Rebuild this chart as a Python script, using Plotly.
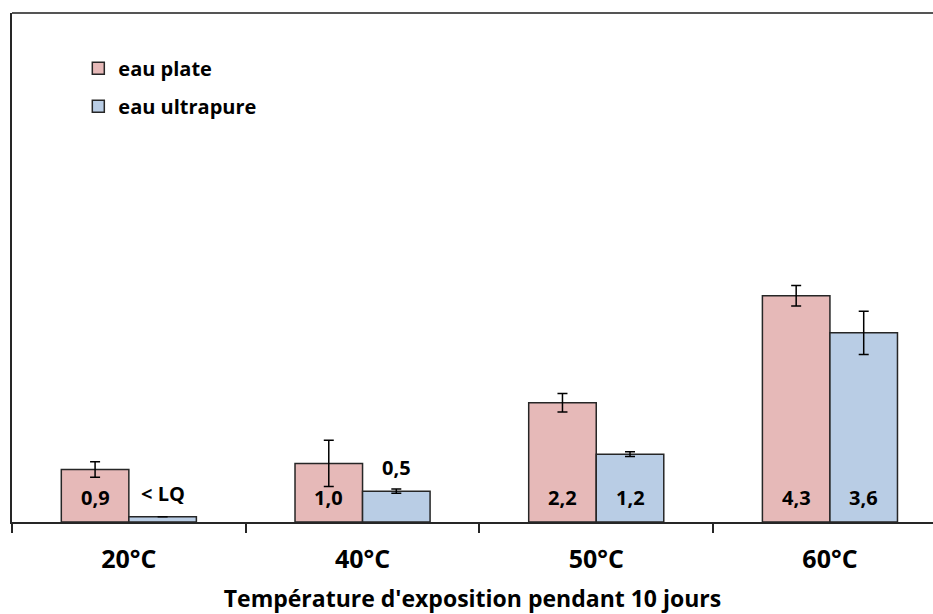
import plotly.graph_objects as go

# data
categories = ["20°C", "40°C", "50°C", "60°C"]
plate = [0.92, 1.04, 2.22, 4.30]
plate_err = [0.15, 0.45, 0.18, 0.20]
plate_text = ["0,9", "1,0", "2,2", "4,3"]
ultra = [0.0, 0.50, 1.22, 3.58]
ultra_err = [None, 0.04, 0.045, 0.42]
ultra_text = ["< LQ", "0,5", "1,2", "3,6"]

BASE = -0.1  # the horizontal axis crosses at -0.1, bars start there
FONT = "Open Sans"
EDGE = "#262626"

fig = go.Figure()
fig.add_trace(go.Bar(
    name="eau plate", x=categories, y=[v - BASE for v in plate], base=BASE,
    marker=dict(color="#E6B9B8", line=dict(color=EDGE, width=1.5)),
    error_y=dict(type="data", array=plate_err, color="black", thickness=1.5, width=5),
    legendgroup="a"))
fig.add_trace(go.Bar(
    name="eau ultrapure", x=categories, y=[v - BASE for v in ultra], base=BASE,
    marker=dict(color="#B9CDE5", line=dict(color=EDGE, width=1.5)),
    error_y=dict(type="data", array=ultra_err, color="black", thickness=1.5, width=5),
    legendgroup="b"))

bargap = 0.422
half = (1 - bargap) / 4
annots = []
for sign, vals, texts in [(-1, plate, plate_text), (1, ultra, ultra_text)]:
    for i, (v, t) in enumerate(zip(vals, texts)):
        if v > 0.8:
            y, ys = BASE, 9
        else:
            y, ys = v, 8
        annots.append(dict(x=i + sign * half, y=y, xref="x", yref="y", text=t,
                           showarrow=False, yanchor="bottom", yshift=ys,
                           font=dict(family=FONT, size=20, weight="bold", color="black")))

# plot area runs to the right edge; the last category is cut off like in the original
fig.update_layout(
    width=933, height=614,
    margin=dict(l=12, r=0, t=13, b=92),
    plot_bgcolor="white", paper_bgcolor="white",
    barmode="group", bargap=bargap, bargroupgap=0,
    font=dict(family=FONT, color="black"),
    showlegend=True,
    legend=dict(x=0.072, y=0.93, xanchor="left", yanchor="top",
                font=dict(family=FONT, size=20, weight="bold", color="black"),
                tracegroupgap=9, bgcolor="rgba(0,0,0,0)"),
    annotations=annots,
    shapes=[dict(type="line", xref="paper", yref="paper", x0=0, x1=1, y0=1, y1=1,
                 line=dict(color="#555555", width=2))],
)
fig.update_xaxes(
    type="category", range=[-0.5, 3.441],
    showline=True, linecolor=EDGE, linewidth=1.5,
    ticks="outside", tickson="boundaries", ticklen=9, tickcolor=EDGE, tickwidth=1.5,
    tickfont=dict(family=FONT, size=25, weight="bold", color="black"),
    ticklabelstandoff=14,
    title=dict(text="Température d'exposition pendant 10 jours", standoff=17,
               font=dict(family=FONT, size=23, weight="bold", color="black")),
    showgrid=False,
)
fig.update_yaxes(
    range=[BASE, 9.8], showline=True, linecolor=EDGE, linewidth=1.5,
    showticklabels=False, ticks="", showgrid=False, zeroline=False,
)

# drop the default page margin so the figure fills the window exactly
fig.write_html("out.html", config={"displayModeBar": False},
               post_script="document.body.style.margin='0';")
